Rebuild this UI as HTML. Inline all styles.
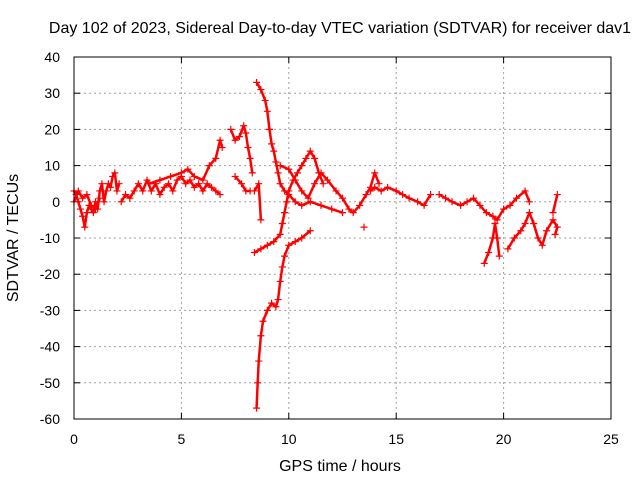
<!DOCTYPE html>
<html><head><meta charset="utf-8"><style>
body{margin:0;background:#fff}
svg{display:block;font-family:"Liberation Sans",sans-serif}
</style></head><body>
<svg id="chart" width="640" height="480">
<text x="340" y="33" text-anchor="middle" font-size="16">Day 102 of 2023, Sidereal Day-to-day VTEC variation (SDTVAR) for receiver dav1</text>
<text x="340" y="471" text-anchor="middle" font-size="16">GPS time / hours</text>
<text transform="translate(18,238) rotate(-90)" text-anchor="middle" font-size="16">SDTVAR / TECUs</text>
<g id="grid"></g>
<g id="ticks"></g>
<g id="marks"></g>
<rect x="74" y="57" width="537" height="362" fill="none" stroke="#000" stroke-width="1"/>
</svg>
<script>
const xTicks=[0,5,10,15,20,25];
const yTicks=[40,30,20,10,0,-10,-20,-30,-40,-50,-60];
const traceA=[[0,3],[0.1,2],[0.2,0],[0.3,-2],[0.4,-4],[0.5,-7],[0.6,-3],[0.7,-1],[0.8,-2],[0.9,-3],[1.0,0],[1.1,-2],[1.2,3],[1.3,5],[1.4,0],[1.5,3],[1.6,5],[1.7,4],[1.8,7],[1.9,8],[2.0,3],[2.1,5]];
const traceA2=[[0,0],[0.2,3],[0.4,1],[0.6,2],[0.8,-1],[1.0,-2],[1.2,1]];
const traceB=[[2.2,0],[2.4,2],[2.6,1],[2.8,3],[3.0,5],[3.2,3],[3.4,6],[3.6,3],[3.8,5],[4.0,2],[4.2,4],[4.4,5],[4.6,3],[4.8,6],[5.0,7],[5.2,5],[5.4,6],[5.6,4],[5.8,5],[6.0,3],[6.2,5],[6.4,4],[6.6,3],[6.8,2]];
const traceB2=[[3.5,5],[4,6],[4.5,7],[5,8],[5.3,9],[5.6,7],[6,6],[6.3,10],[6.6,12],[6.8,17],[6.9,15]];
const traceC=[[7.3,20],[7.5,17],[7.7,18],[7.9,21],[8.0,19],[8.1,15],[8.2,12],[8.3,8]];
const traceC2=[[7.5,7],[7.8,5],[8.0,3],[8.2,3]];
const traceD=[[8.5,33],[8.7,31],[8.9,28],[9.0,25],[9.1,20],[9.2,16],[9.3,14],[9.4,11],[9.5,8],[9.6,5],[9.8,3],[10,2],[10.3,0],[10.6,-1],[11,0],[11.5,-1],[12,-2],[12.5,-3]];
const traceE=[[8.5,-57],[8.55,-50],[8.6,-44],[8.7,-37],[8.8,-33],[9,-30],[9.2,-28],[9.4,-29],[9.5,-27],[9.6,-22],[9.7,-18],[9.8,-15],[10,-12],[10.3,-11],[10.6,-10],[11,-8]];
const traceF=[[8.4,-14],[8.7,-13],[9.0,-12],[9.3,-11],[9.6,-9],[9.7,-6],[9.8,-3],[9.9,0],[10,3],[10.2,6],[10.4,8],[10.6,10],[10.8,12],[11,14],[11.2,12],[11.4,8],[11.6,5]];
const traceG=[[9.6,10],[10,9],[10.3,6],[10.6,3],[10.9,1],[11.2,5],[11.5,8],[11.8,6],[12.2,3],[12.5,1],[12.8,-2],[13,-3],[13.3,-1],[13.6,2],[13.8,4],[14,8],[14.2,5]];
const traceH=[[8.4,3],[8.6,5],[8.7,-5]];
const traceI=[[13.8,3],[14,4],[14.3,3],[14.6,4],[15,3],[15.3,2],[15.6,1],[16,0],[16.3,-1],[16.6,2]];
const traceI2=[[13.5,-7]];
const traceJ=[[17,2],[17.3,1],[17.6,0],[18,-1],[18.3,0],[18.6,1],[18.9,-1],[19.2,-3],[19.5,-4],[19.7,-5],[20,-2],[20.3,-1],[20.6,1],[21,3],[21.2,0]];
const traceK=[[19.1,-17],[19.3,-14],[19.5,-10],[19.6,-6],[19.7,-10],[19.8,-15]];
const traceK2=[[20.2,-13],[20.5,-10],[20.8,-8],[21,-6],[21.2,-3],[21.4,-6],[21.6,-10],[21.8,-12],[22,-8],[22.3,-5],[22.5,-7],[22.4,-9]];
const traceK3=[[22.3,-3],[22.5,2]];
const traces=[traceA,traceA2,traceB,traceB2,traceC,traceC2,traceD,traceE,traceF,traceG,traceH,traceI,traceI2,traceJ,traceK,traceK2,traceK3];

const NS='http://www.w3.org/2000/svg';
const X0=74,X1=611,Y0=419,Y1=57;
const sx=v=>X0+(v-0)/(25-0)*(X1-X0);
const sy=v=>Y0-(v+60)/(100)*(Y0-Y1);
const grid=document.getElementById('grid'),ticks=document.getElementById('ticks'),marks=document.getElementById('marks');
function mk(tag,at,parent){const e=document.createElementNS(NS,tag);for(const k in at)e.setAttribute(k,at[k]);parent.appendChild(e);return e;}
xTicks.forEach(t=>{
  const x=sx(t);
  if(t>0&&t<25){const g=mk('line',{x1:x,x2:x,y1:Y0,y2:Y1,stroke:'#a0a0a0','stroke-dasharray':'2,3'},grid);
  
  }
  mk('line',{x1:x,x2:x,y1:Y0,y2:Y0-6,stroke:'#000'},ticks);
  mk('line',{x1:x,x2:x,y1:Y1,y2:Y1+6,stroke:'#000'},ticks);
  const l=mk('text',{x:x,y:Y0+25,'text-anchor':'middle','font-size':'14'},ticks);l.textContent=t;
  
  
});
yTicks.forEach(t=>{
  const y=sy(t);
  if(t>-60&&t<40){const g=mk('line',{x1:X0,x2:X1,y1:y,y2:y,stroke:'#a0a0a0','stroke-dasharray':'2,3'},grid);
  
  }
  mk('line',{x1:X0,x2:X0+6,y1:y,y2:y,stroke:'#000'},ticks);
  mk('line',{x1:X1,x2:X1-6,y1:y,y2:y,stroke:'#000'},ticks);
  const l=mk('text',{x:X0-14,y:y+5,'text-anchor':'end','font-size':'14'},ticks);l.textContent=t;
  
  
});
traces.forEach(tr=>{
  if(tr.length>1){
    const p=mk('polyline',{points:tr.map(d=>sx(d[0])+','+sy(d[1])).join(' '),fill:'none',stroke:'#f00','stroke-width':2.5,'stroke-linejoin':'round'},marks);
    
    
  }
  tr.forEach(d=>{
    const x=sx(d[0]),y=sy(d[1]);
    const m=mk('path',{d:`M${x-3.5} ${y}H${x+3.5}M${x} ${y-3.5}V${y+3.5}`,stroke:'#f00','stroke-width':1.2},marks);
    
    
  });
});
</script>
</body></html>
